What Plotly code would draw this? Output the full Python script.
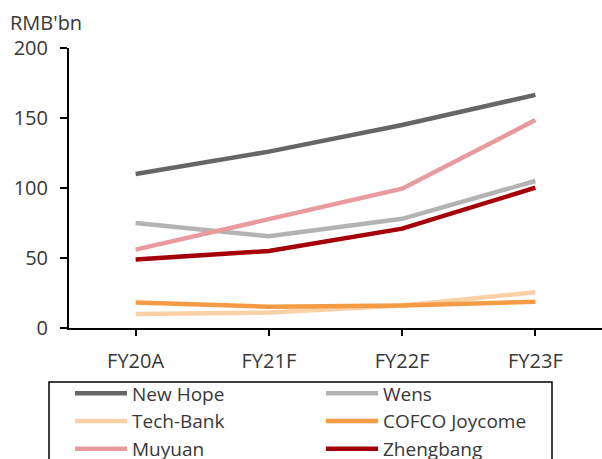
import plotly.graph_objects as go

categories = ["FY20A", "FY21F", "FY22F", "FY23F"]
new_hope = [110, 126, 145, 166.5]
wens = [75, 65.5, 78, 105]
tech_bank = [10, 11, 16, 25.5]
cofco = [18.3, 15.2, 16, 18.8]
muyuan = [56, 78, 99.5, 148.5]
zhengbang = [49, 55, 71, 100.2]

series = [
    ("New Hope", new_hope, "#666666"),
    ("Wens", wens, "#B3B3B3"),
    ("Tech-Bank", tech_bank, "#FAD0A6"),
    ("COFCO Joycome", cofco, "#F59B45"),
    ("Muyuan", muyuan, "#E89A9E"),
    ("Zhengbang", zhengbang, "#A50009"),
]

FONT = "Open Sans"
TXT = "#383838"
L, T, W, H = 69, 48, 533, 280


def px_x(p):
    return (p - L) / W


def px_y(p):
    return (T + H - p) / H


fig = go.Figure()
for name, vals, color in series:
    fig.add_trace(go.Scatter(
        x=categories, y=vals, name=name, mode="lines",
        line=dict(color=color, width=4.5),
    ))

fig.update_layout(
    width=602, height=459,
    margin=dict(l=L, r=602 - L - W, t=T, b=459 - T - H, autoexpand=False),
    paper_bgcolor="white", plot_bgcolor="white",
    font=dict(family=FONT, size=20, color=TXT),
    showlegend=True,
    legend=dict(
        orientation="h",
        x=px_x(70), xanchor="left",
        y=px_y(374.5), yanchor="top",
        borderwidth=0, bgcolor="rgba(0,0,0,0)",
        entrywidth=184, entrywidthmode="pixels",
        itemwidth=52,
        traceorder="normal",
        font=dict(family=FONT, size=19, color=TXT),
        tracegroupgap=0,
    ),
    xaxis=dict(
        type="category", range=[-0.5, 3.5],
        showline=True, linecolor="black", linewidth=2,
        ticks="outside", ticklen=6, tickwidth=2, tickcolor="black",
        showgrid=False, zeroline=False,
        ticklabelstandoff=8,
    ),
    yaxis=dict(
        range=[0, 200], dtick=50,
        showline=True, linecolor="black", linewidth=2,
        ticks="outside", ticklen=7, tickwidth=2, tickcolor="black",
        showgrid=False, zeroline=False,
        ticklabelstandoff=8,
    ),
    shapes=[dict(
        type="rect", xref="paper", yref="paper",
        x0=px_x(49), x1=px_x(552), y0=px_y(382), y1=px_y(470),
        line=dict(color="black", width=1.5), fillcolor="rgba(0,0,0,0)",
        layer="above",
    )],
    annotations=[dict(
        text="RMB'bn", xref="paper", yref="paper",
        x=px_x(8), y=px_y(22),
        xanchor="left", yanchor="middle", showarrow=False,
        font=dict(family=FONT, size=20, color=TXT),
    )],
)

fig.write_html("out.html")
